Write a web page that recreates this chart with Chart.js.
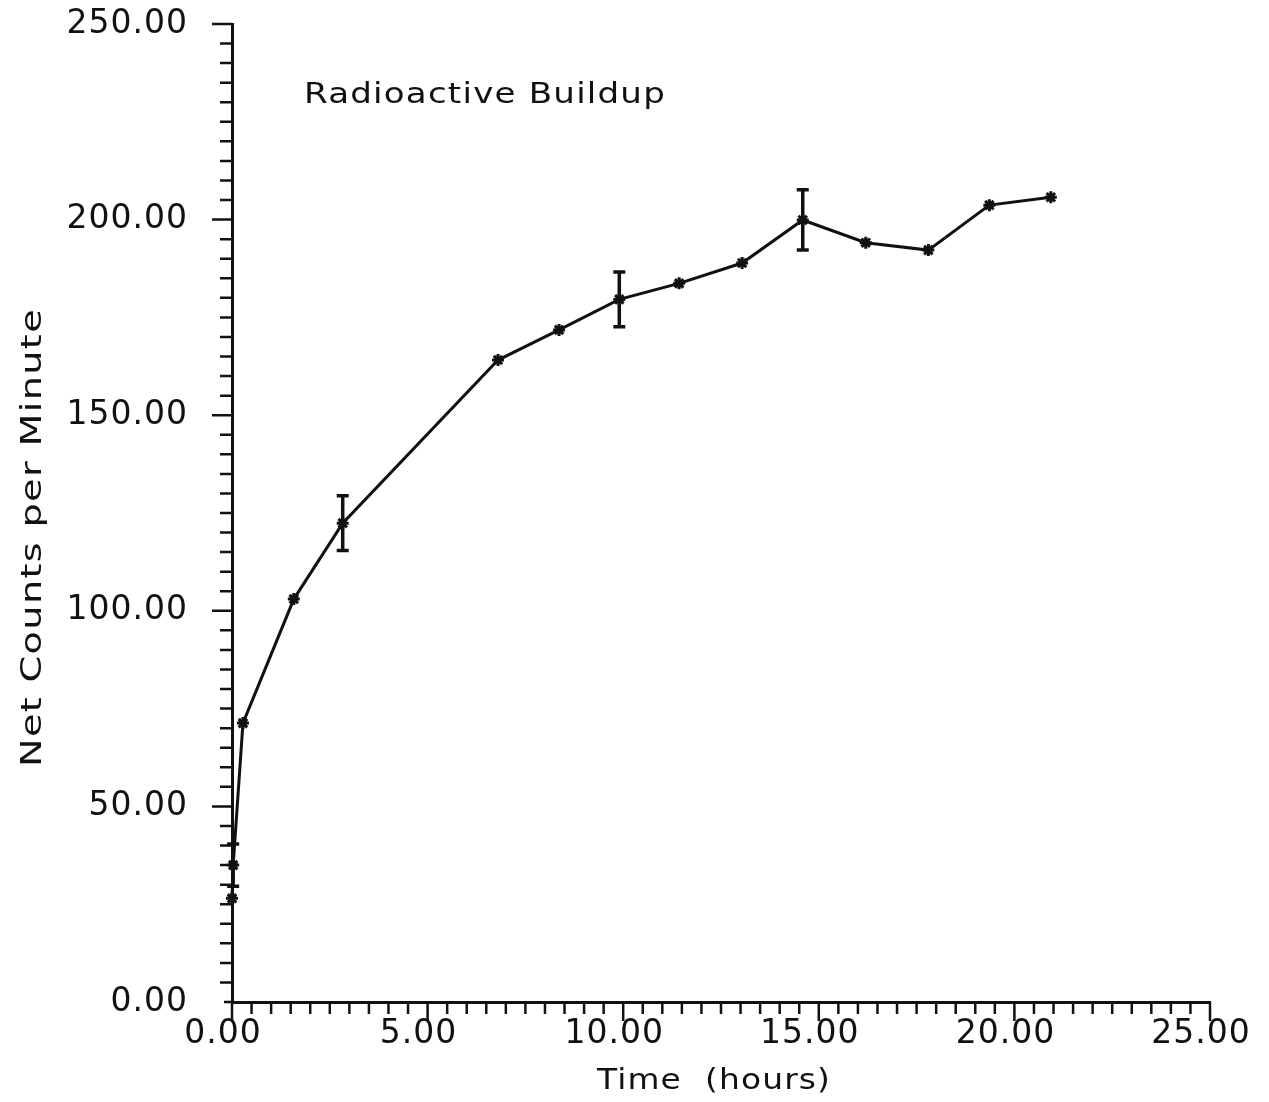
<!DOCTYPE html>
<html>
<head>
<meta charset="utf-8">
<title>Radioactive Buildup</title>
<script src="https://cdn.jsdelivr.net/npm/chart.js@4.4.1/dist/chart.umd.min.js"></script>
<style>
  html, body { margin: 0; background: #fff; }
  #wrap { width: 1269px; height: 1102px; }
</style>
</head>
<body>
<div id="wrap"><canvas id="chart" width="1269" height="1102"></canvas></div>
<script>
// measured buildup, hours vs. net counts per minute
const hours  = [0, 0.03, 0.28, 1.58, 2.83, 6.8, 8.36, 9.9, 11.43, 13.04, 14.59, 16.2, 17.8, 19.36, 20.93];
const counts = [26.5, 35, 71.3, 103.0, 122.4, 164.1, 171.8, 179.6, 183.7, 188.9, 199.9, 194.1, 192.2, 203.7, 205.7];
// half-height of the error bar at each reading (0 = none drawn)
const errors = [0, 5.4, 0, 0, 7, 0, 0, 7, 0, 0, 7.7, 0, 0, 0, 0];

const chartTitle = 'Radioactive Buildup';
const xTitle = 'Time  (hours)';
const yTitle = 'Net Counts per Minute';

const ink = '#111';
const face = '"DejaVu Sans", sans-serif';

// plotter lettering is wide, so stretch text horizontally to the given width
function wideText(ctx, text, x, y, width) {
  ctx.save();
  ctx.letterSpacing = '1px';
  const natural = ctx.measureText(text).width;
  ctx.translate(x, y);
  ctx.scale(width / natural, 1);
  ctx.fillText(text, 0, 0);
  ctx.restore();
}

const lettering = {
  id: 'lettering',
  beforeDraw(chart) {
    chart.ctx.letterSpacing = '1px';
  },
  afterDraw(chart) {
    const { ctx, chartArea } = chart;
    ctx.save();
    ctx.fillStyle = ink;
    ctx.textAlign = 'left';
    ctx.textBaseline = 'alphabetic';

    ctx.font = '28px ' + face;
    wideText(ctx, chartTitle, chartArea.left + 72, 103, 362);

    ctx.font = '29px ' + face;
    wideText(ctx, xTitle, 597, 1089, 234);

    ctx.save();
    ctx.translate(41, 767);
    ctx.rotate(-Math.PI / 2);
    ctx.font = '29px ' + face;
    wideText(ctx, yTitle, 0, 0, 459);
    ctx.restore();
    ctx.restore();
  }
};

// small tick marks: every 0.5 h on x, every 5 counts on y
const tickMarks = {
  id: 'tickMarks',
  afterDraw(chart) {
    const { ctx, scales: { x, y } } = chart;
    ctx.save();
    ctx.strokeStyle = ink;
    ctx.lineWidth = 2.5;
    ctx.beginPath();
    for (let i = 0; i <= 50; i++) {
      const px = x.getPixelForValue(i * 0.5);
      const len = i % 10 === 0 ? 19 : 12;
      ctx.moveTo(px, y.bottom);
      ctx.lineTo(px, y.bottom + len);
    }
    for (let i = 0; i <= 50; i++) {
      const py = y.getPixelForValue(i * 5);
      const len = i === 0 ? 8 : (i % 10 === 0 ? 20 : 12);
      ctx.moveTo(x.left, py);
      ctx.lineTo(x.left - len, py);
    }
    ctx.stroke();
    ctx.restore();
  }
};

const errorBars = {
  id: 'errorBars',
  afterDatasetsDraw(chart) {
    const { ctx, scales: { x, y } } = chart;
    ctx.save();
    ctx.strokeStyle = ink;
    ctx.lineWidth = 3.5;
    ctx.beginPath();
    hours.forEach((h, i) => {
      if (!errors[i]) return;
      const px = x.getPixelForValue(h);
      const top = y.getPixelForValue(counts[i] + errors[i]);
      const bot = y.getPixelForValue(counts[i] - errors[i]);
      ctx.moveTo(px, top); ctx.lineTo(px, bot);
      ctx.moveTo(px - 6, top); ctx.lineTo(px + 6, top);
      ctx.moveTo(px - 6, bot); ctx.lineTo(px + 6, bot);
    });
    ctx.stroke();
    ctx.restore();
  }
};

const tickFont = { family: face, size: 33 };

new Chart(document.getElementById('chart'), {
  type: 'scatter',
  data: {
    datasets: [{
      data: hours.map((h, i) => ({ x: h, y: counts[i] })),
      showLine: true,
      borderColor: ink,
      borderWidth: 3,
      pointStyle: 'star',
      pointRadius: 6,
      pointBorderWidth: 3,
      pointBorderColor: ink,
      pointBackgroundColor: ink,
      tension: 0,
      clip: false
    }]
  },
  options: {
    responsive: false,
    animation: false,
    layout: { padding: { top: 24, right: 59, left: 0, bottom: 0 } },
    plugins: {
      legend: { display: false },
      tooltip: { enabled: false }
    },
    scales: {
      x: {
        type: 'linear',
        position: 'bottom',
        min: 0,
        max: 25,
        grid: { display: false, drawTicks: false },
        border: { display: true, color: ink, width: 3 },
        ticks: {
          stepSize: 5,
          padding: 13,
          labelOffset: -9,
          color: ink,
          font: tickFont,
          maxRotation: 0,
          autoSkip: false,
          callback: v => v.toFixed(2)
        },
        afterFit(scale) {
          scale.height = 100;
          scale.paddingLeft = 0;
          scale.paddingRight = 0;
        }
      },
      y: {
        type: 'linear',
        min: 0,
        max: 250,
        grid: { display: false, drawTicks: false },
        border: { display: true, color: ink, width: 3 },
        ticks: {
          stepSize: 50,
          padding: 44,
          color: ink,
          font: tickFont,
          autoSkip: false,
          callback: v => v.toFixed(2)
        },
        afterFit(scale) {
          scale.width = 232;
          scale.paddingTop = 0;
          scale.paddingBottom = 0;
        }
      }
    }
  },
  plugins: [lettering, tickMarks, errorBars]
});
</script>
</body>
</html>
